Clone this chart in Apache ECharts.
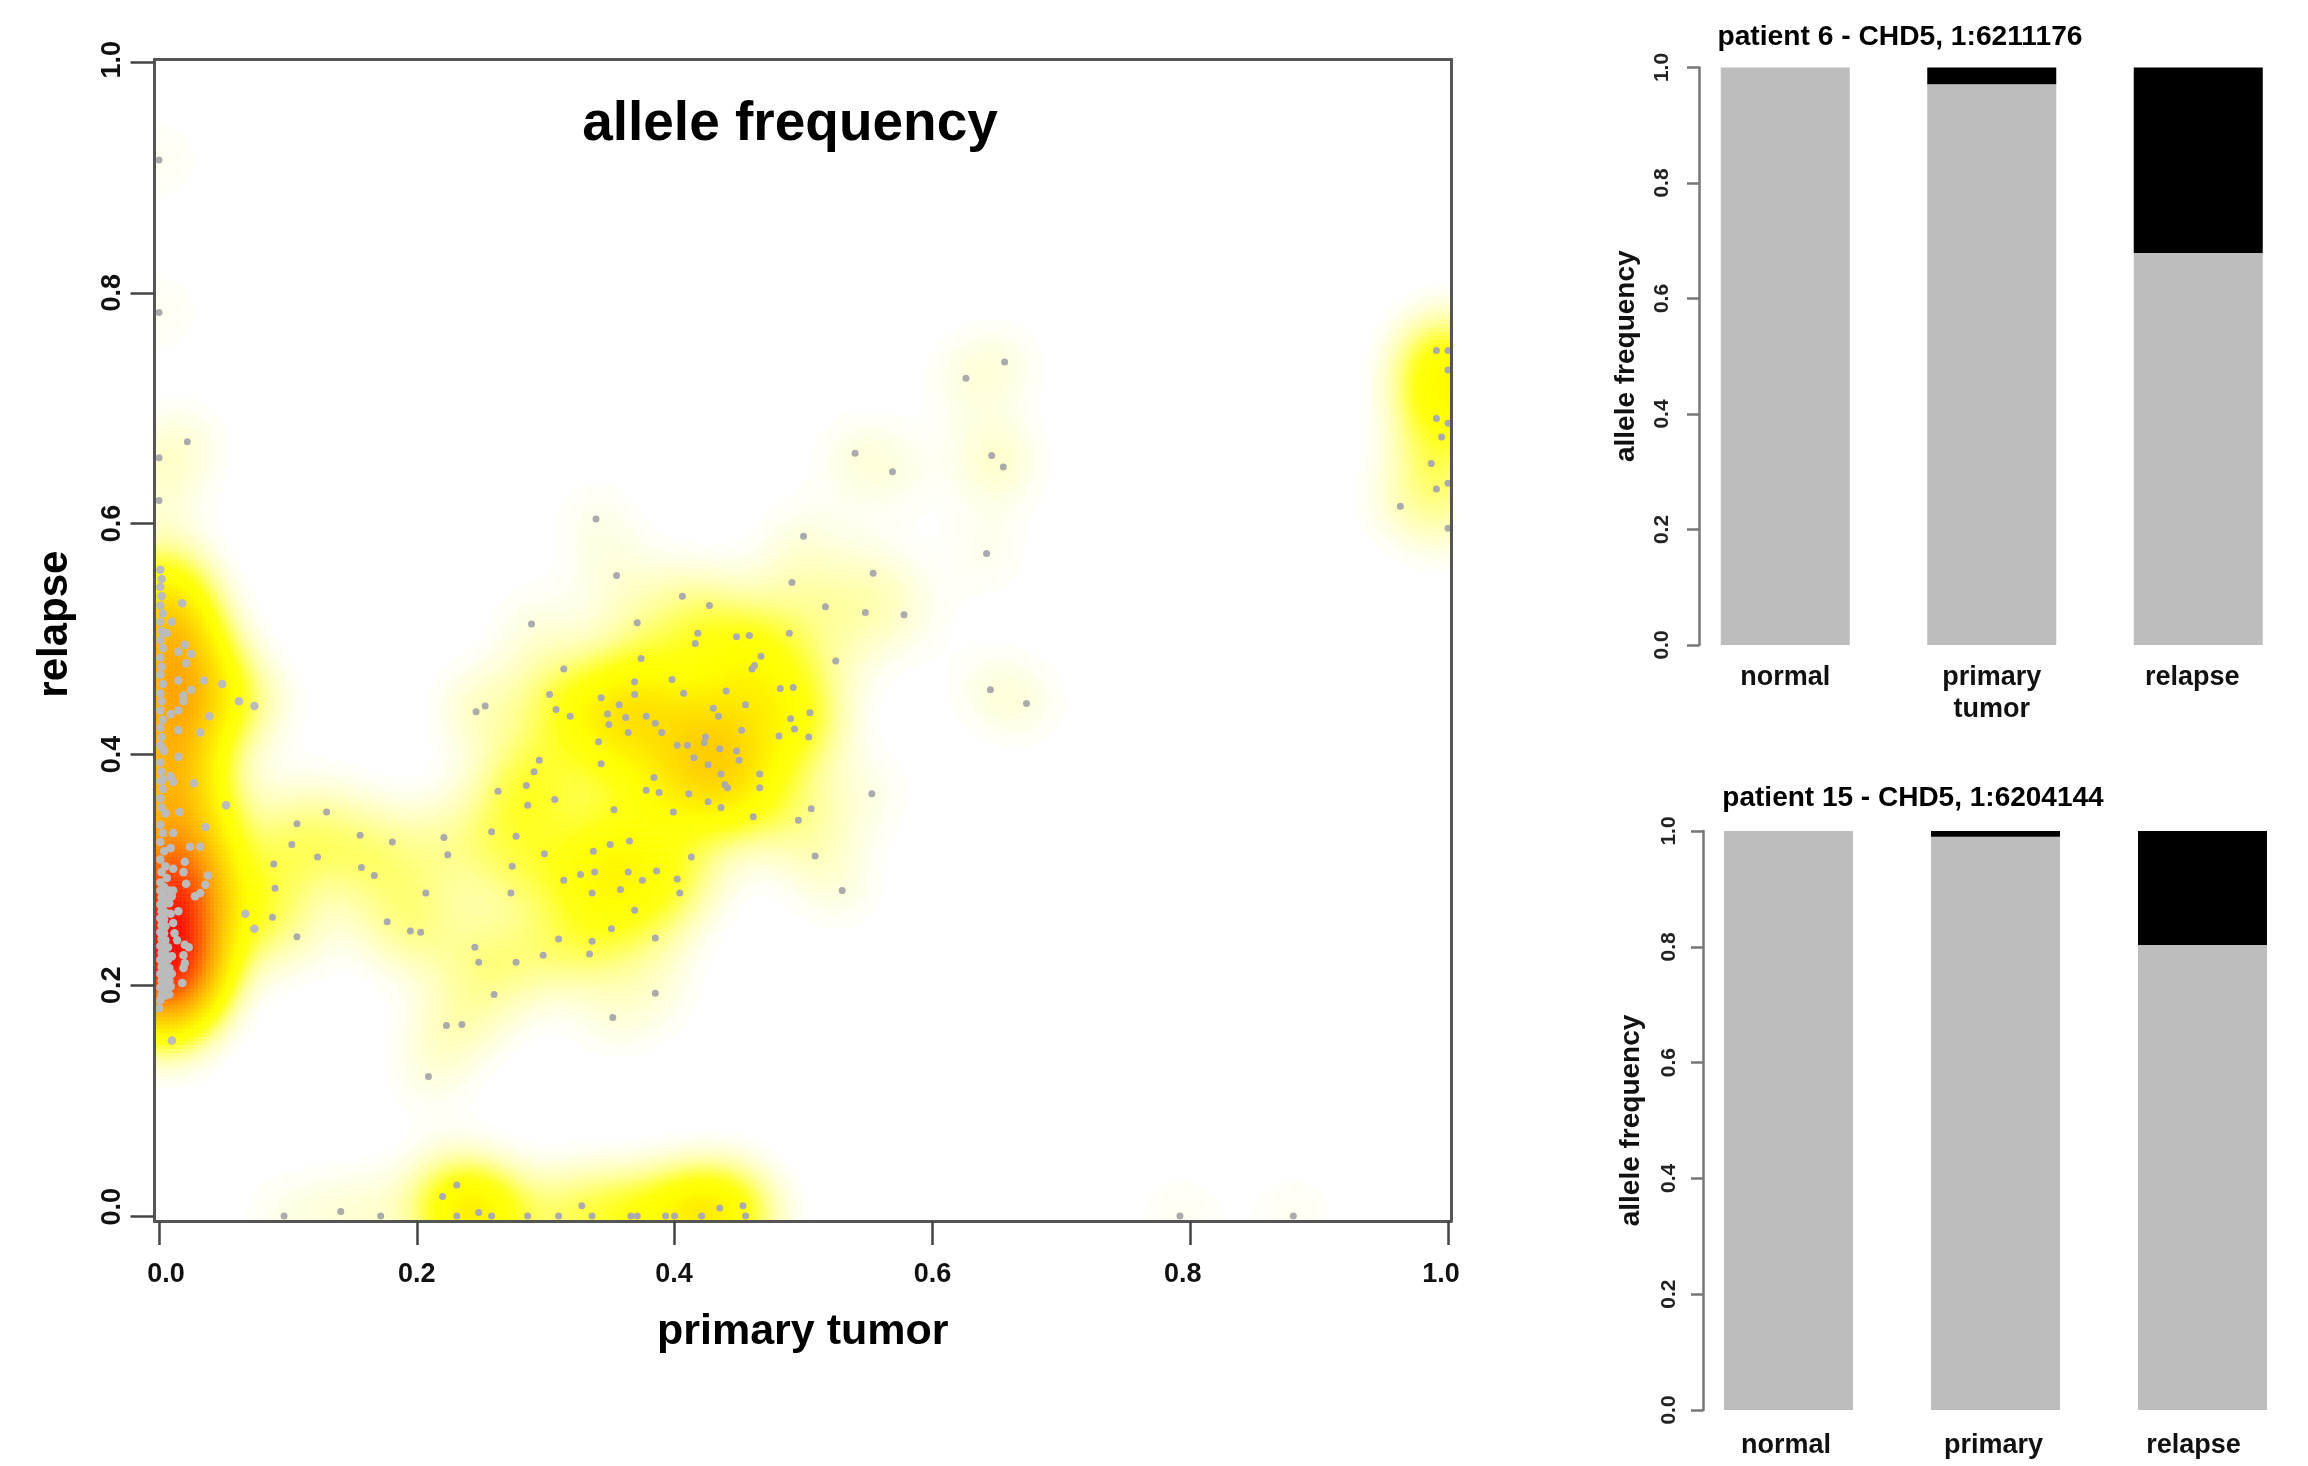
<!DOCTYPE html>
<html><head><meta charset="utf-8">
<script src="https://cdn.jsdelivr.net/npm/echarts@6/dist/echarts.min.js"></script>
<style>html,body{margin:0;padding:0;background:#fff}#c{width:2308px;height:1466px}</style>
</head><body><div id="c"></div>
<script>
// ---- scatter values [primary tumor, relapse] ----
const edgeColumn=[[.001,.560],[.002,.552],[.001,.545],[.002,.537],[.001,.529],[.003,.522],[.001,.515],[.002,.507],[.003,.505],[.001,.499],[.003,.492],[.001,.484],[.002,.476],[.001,.469],[.003,.461],[.001,.453],[.002,.446],[.001,.438],[.003,.430],[.001,.423],[.002,.415],[.001,.408],[.004,.403],[.001,.393],[.002,.385],[.001,.377],[.003,.370],[.001,.362],[.002,.354],[.005,.349],[.001,.339],[.003,.332],[.001,.324],[.004,.316],[.001,.309],[.005,.303],[.002,.298],[.006,.293],[.001,.289],[.004,.285]];
const edgeBand=[[.001,.282],[.004,.281],[.008,.282],[.002,.276],[.006,.275],[.010,.277],[.001,.270],[.004,.270],[.008,.271],[.002,.264],[.005,.263],[.001,.258],[.004,.257],[.002,.252],[.005,.251],[.001,.246],[.004,.245],[.002,.240],[.005,.239],[.001,.234],[.004,.233],[.007,.233],[.002,.228],[.005,.227],[.001,.222],[.004,.221],[.007,.222],[.002,.216],[.005,.215],[.008,.215],[.001,.210],[.004,.209],[.007,.210],[.002,.204],[.005,.203],[.008,.204],[.001,.198],[.004,.197],[.007,.198],[.002,.192],[.005,.191],[.008,.192],[.001,.187],[.000,.180]];
const leftCluster=[[.018,.531],[.010,.515],[.006,.505],[.020,.495],[.015,.489],[.025,.487],[.021,.479],[.015,.464],[.035,.464],[.049,.461],[.025,.456],[.019,.451],[.062,.446],[.074,.442],[.019,.446],[.015,.438],[.009,.435],[.039,.433],[.015,.421],[.032,.419],[.003,.405],[.015,.398],[.009,.381],[.003,.378],[.011,.376],[.027,.375],[.052,.356],[.016,.350],[.005,.349],[.036,.337],[.011,.332],[.009,.319],[.024,.320],[.032,.320],[.020,.307],[.011,.301],[.019,.298],[.038,.295],[.021,.288],[.036,.287],[.032,.280],[.028,.277],[.011,.282],[.015,.264],[.009,.262],[.011,.254],[.012,.245],[.014,.239],[.020,.235],[.023,.233],[.019,.226],[.020,.219],[.019,.215],[.018,.202],[.010,.225],[.010,.210],[.009,.199],[.010,.152],[.067,.262],[.074,.249]];
const bridgeCluster=[[.130,.350],[.107,.340],[.103,.322],[.089,.305],[.090,.284],[.088,.259],[.107,.242],[.123,.311],[.156,.330],[.181,.324],[.157,.302],[.167,.295],[.207,.280],[.177,.255],[.195,.247],[.203,.246],[.209,.121],[.223,.165],[.235,.166]];
const midCluster=[[.339,.604],[.500,.589],[.554,.557],[.491,.549],[.355,.555],[.406,.537],[.427,.529],[.517,.528],[.548,.523],[.578,.521],[.289,.513],[.371,.514],[.418,.505],[.416,.496],[.448,.502],[.458,.503],[.489,.505],[.525,.481],[.467,.485],[.462,.477],[.460,.474],[.374,.483],[.314,.474],[.398,.465],[.369,.463],[.407,.453],[.440,.455],[.482,.457],[.492,.458],[.343,.449],[.369,.452],[.303,.452],[.357,.443],[.253,.442],[.246,.437],[.455,.443],[.430,.440],[.434,.433],[.308,.439],[.319,.433],[.348,.435],[.362,.432],[.378,.433],[.385,.427],[.349,.426],[.390,.419],[.364,.419],[.505,.436],[.490,.431],[.493,.422],[.452,.421],[.481,.416],[.504,.415],[.424,.415],[.423,.410],[.341,.411],[.402,.408],[.410,.408],[.435,.405],[.448,.403],[.450,.395],[.415,.397],[.426,.391],[.295,.395],[.291,.385],[.343,.392],[.436,.383],[.466,.383],[.439,.374],[.441,.371],[.384,.380],[.466,.371],[.285,.373],[.263,.368],[.378,.369],[.388,.367],[.411,.366],[.307,.361],[.286,.356],[.553,.366],[.426,.359],[.436,.354],[.353,.352],[.399,.350],[.461,.346],[.506,.353],[.496,.343],[.258,.333],[.277,.329],[.221,.328],[.224,.313],[.365,.325],[.350,.322],[.337,.316],[.299,.314],[.413,.311],[.509,.312],[.274,.303],[.327,.296],[.338,.298],[.364,.298],[.386,.299],[.402,.292],[.375,.291],[.314,.291],[.358,.283],[.336,.280],[.404,.280],[.273,.280],[.530,.282],[.369,.265],[.351,.249],[.385,.241],[.310,.240],[.336,.238],[.245,.233],[.248,.220],[.277,.220],[.298,.226],[.334,.227],[.260,.192],[.385,.193],[.352,.172]];
const upperBlobs=[[.656,.740],[.626,.726],[.540,.661],[.569,.645],[.646,.659],[.655,.649],[.642,.574],[.645,.456],[.673,.444]];
const topLeft=[[.000,.915],[.000,.783],[.022,.671],[.000,.657],[.000,.620]];
const rightEdge=[[.991,.750],[1.000,.750],[1.000,.733],[.991,.691],[1.000,.687],[.995,.675],[.987,.652],[1.000,.635],[.991,.630],[.963,.615],[1.000,.596]];
const bottomRow=[[.097,0],[.141,.004],[.172,0],[.220,.017],[.231,.027],[.231,0],[.248,.003],[.258,0],[.286,0],[.310,0],[.328,.009],[.336,0],[.366,0],[.371,0],[.393,0],[.400,0],[.421,0],[.435,.007],[.453,.009],[.455,0],[.792,0],[.880,0]];
// points hidden beneath one another on the x axis and right edge: seen only through their density
const overlapping=[[.231,0],[.236,.005],[.240,0],[.248,.003],[.248,0],[.258,0],[.336,0],[.366,0],[.400,0],[.421,0],[.421,.003],[.430,0],[.435,.007],[.445,0],[.410,0],[1.000,.750],[1.000,.733],[1.000,.720],[.995,.712],[1.000,.705],[.991,.725]];

// ---- axes ----
const axisTicks=[0,.2,.4,.6,.8,1];
const xLabelAt=[.0054,.2,.3996,.6,.7942,.9946];
const yLabelAt=[.008,.2,.4,.6,.8,1.002];
const barTicks=[0,.2,.4,.6,.8,1];

// ---- bars ----
const categoriesTop=['normal','primary\ntumor',{value:'relapse',textStyle:{padding:[0,12,0,0]}}];
const categoriesBottom=[{value:'normal',textStyle:{padding:[0,5,0,0]}},{value:'primary',textStyle:{padding:[0,4,0,0]}},{value:'relapse',textStyle:{padding:[0,18,0,0]}}];
const p6Ref=[1,.971,.679];
const p6Alt=[0,.029,.321];
const p15Ref=[1,.990,.803];
const p15Alt=[0,.010,.197];

const FONT='"Liberation Sans",Arial,sans-serif';
const X0=-.0035,X1=1.0023,Y0=-.0043,Y1=1.0023;
const lightPoints=[].concat(edgeColumn,edgeBand,leftCluster);
const otherPoints=[].concat(bridgeCluster,midCluster,upperBlobs,topLeft,rightEdge,bottomRow);

// the colour field is the 2-D kernel density of the points above, like R's smoothScatter
const NX=325,NY=290,SX=.027,SY=.03,POWER=.5;
function densityCells(){
  const d=new Float64Array(NX*NY);
  const dx=(X1-X0)/NX,dy=(Y1-Y0)/NY;
  lightPoints.concat(otherPoints,overlapping).forEach(([px,py])=>{
    const i0=Math.max(0,Math.floor((px-3.6*SX-X0)/dx)),i1=Math.min(NX-1,Math.ceil((px+3.6*SX-X0)/dx));
    const j0=Math.max(0,Math.floor((py-3.6*SY-Y0)/dy)),j1=Math.min(NY-1,Math.ceil((py+3.6*SY-Y0)/dy));
    for(let j=j0;j<=j1;j++){const v=(Y0+(j+.5)*dy-py)/SY;
      for(let i=i0;i<=i1;i++){const u=(X0+(i+.5)*dx-px)/SX;
        d[j*NX+i]+=Math.exp(-.5*(u*u+v*v));}}
  });
  let m=0;for(const v of d)if(v>m)m=v;
  const out=[];
  for(let j=0;j<NY;j++)for(let i=0;i<NX;i++){
    const t=Math.pow(d[j*NX+i]/m,POWER);
    if(t>.12)out.push([i,j,+t.toFixed(3)]);
  }
  return out;
}
const idx=n=>Array.from({length:n},(_,i)=>i);
const BOX='#555555';
const boxRect={left:154.5,top:59.3,width:1296.5,height:1161.7};
const fmt=v=>(+v).toFixed(1);

function barAxes(grid,cats,offset,margin,labelMargin,name,gap){
  return {
    x:{type:'category',gridIndex:grid,data:cats,axisLine:{show:false},axisTick:{show:false},
       axisLabel:{fontFamily:FONT,fontWeight:'bold',fontSize:27,color:'#111',margin:labelMargin,lineHeight:32,interval:0}},
    y:{type:'value',gridIndex:grid,min:0,max:1,position:'left',offset:offset,splitLine:{show:false},
       axisLine:{show:true,lineStyle:{color:'#777',width:2.5}},
       axisTick:{show:true,length:12,customValues:barTicks,lineStyle:{color:'#777',width:2.5}},
       axisLabel:{show:true,rotate:90,customValues:barTicks,formatter:fmt,fontFamily:FONT,fontWeight:'bold',fontSize:21,color:'#222',margin:margin},
       name:name,nameLocation:'middle',nameGap:gap,nameRotate:90,
       nameTextStyle:{fontFamily:FONT,fontWeight:'bold',fontSize:28,color:'#111'}}
  };
}
const a1=barAxes(2,categoriesTop,-17,26,17,'allele frequency',59);
const a2=barAxes(3,categoriesBottom,-18,23,20,'allele frequency',58);

const titleStyle=(size)=>({fontFamily:FONT,fontWeight:'bold',fontSize:size,color:'#000'});
const chart=echarts.init(document.getElementById('c'),null,{renderer:'canvas'});
chart.setOption({
  animation:false,backgroundColor:'#fff',
  title:[
    {text:'allele frequency',left:785,top:92,textAlign:'center',textStyle:titleStyle(55)},
    {text:'patient 6 - CHD5, 1:6211176',left:1895,top:18,textAlign:'center',textStyle:titleStyle(28.2)},
    {text:'patient 15 - CHD5, 1:6204144',left:1908,top:779,textAlign:'center',textStyle:titleStyle(28)}
  ],
  grid:[
    Object.assign({},boxRect),
    Object.assign({},boxRect),
    {left:1682,top:67.5,width:619.5,height:577.5},
    {left:1685,top:831,width:621,height:579}
  ],
  visualMap:{type:'continuous',show:false,seriesIndex:0,dimension:2,min:0,max:1,
    inRange:{color:['#FFFFFF','#FFFFFF','#FFFFFF','#FFFFF4','#FFFFDC','#FFFFBC','#FFFF90','#FFFF50','#FFFF10','#FFFF00','#FFEE00','#FFDD00','#FFCC00','#FFB800','#FFA500','#FF8C00','#FF7000','#FF5500','#FF3800','#FF1C00','#FF0000']}},
  xAxis:[
    {type:'category',gridIndex:0,data:idx(NX),position:'top',z:6,axisLine:{show:true,lineStyle:{color:BOX,width:3}},axisTick:{show:false},axisLabel:{show:false},splitLine:{show:false}},
    {type:'value',gridIndex:1,min:X0,max:X1,position:'bottom',z:6,splitLine:{show:false},
     axisLine:{show:true,onZero:false,lineStyle:{color:BOX,width:3}},
     axisTick:{show:true,length:24,customValues:axisTicks,lineStyle:{color:'#444',width:2.5}},
     axisLabel:{show:true,customValues:xLabelAt,formatter:fmt,fontFamily:FONT,fontWeight:'bold',fontSize:27,color:'#111',margin:40},
     name:'primary tumor',nameLocation:'middle',nameGap:90,
     nameTextStyle:{fontFamily:FONT,fontWeight:'bold',fontSize:43,color:'#000'}},
    a1.x,a2.x
  ],
  yAxis:[
    {type:'category',gridIndex:0,data:idx(NY),position:'right',z:6,axisLine:{show:true,lineStyle:{color:BOX,width:3}},axisTick:{show:false},axisLabel:{show:false},splitLine:{show:false}},
    {type:'value',gridIndex:1,min:Y0,max:Y1,position:'left',z:6,splitLine:{show:false},
     axisLine:{show:true,onZero:false,lineStyle:{color:BOX,width:3}},
     axisTick:{show:true,length:24,customValues:axisTicks,lineStyle:{color:'#444',width:2.5}},
     axisLabel:{show:true,rotate:90,customValues:yLabelAt,formatter:fmt,fontFamily:FONT,fontWeight:'bold',fontSize:27,color:'#111',margin:28},
     name:'relapse',nameLocation:'middle',nameGap:78,nameRotate:90,
     nameTextStyle:{fontFamily:FONT,fontWeight:'bold',fontSize:42,color:'#000',padding:[0,0,0,32]}},
    a1.y,a2.y
  ],
  series:[
    {type:'heatmap',xAxisIndex:0,yAxisIndex:0,data:densityCells(),silent:true,progressive:0,z:1,emphasis:{disabled:true},itemStyle:{borderWidth:0}},
    {type:'scatter',xAxisIndex:1,yAxisIndex:1,data:otherPoints,symbolSize:7,silent:true,z:3,clip:false,itemStyle:{color:'#ABABAB',opacity:1}},
    {type:'scatter',xAxisIndex:1,yAxisIndex:1,data:lightPoints,symbolSize:8.5,silent:true,z:3,clip:false,itemStyle:{color:'#BBBBBB',opacity:1}},
    {type:'bar',xAxisIndex:2,yAxisIndex:2,stack:'a',data:p6Ref,barWidth:129,itemStyle:{color:'#BDBDBD'},silent:true},
    {type:'bar',xAxisIndex:2,yAxisIndex:2,stack:'a',data:p6Alt,barWidth:129,itemStyle:{color:'#000'},silent:true},
    {type:'bar',xAxisIndex:3,yAxisIndex:3,stack:'b',data:p15Ref,barWidth:129,itemStyle:{color:'#BDBDBD'},silent:true},
    {type:'bar',xAxisIndex:3,yAxisIndex:3,stack:'b',data:p15Alt,barWidth:129,itemStyle:{color:'#000'},silent:true}
  ]
});
</script></body></html>
